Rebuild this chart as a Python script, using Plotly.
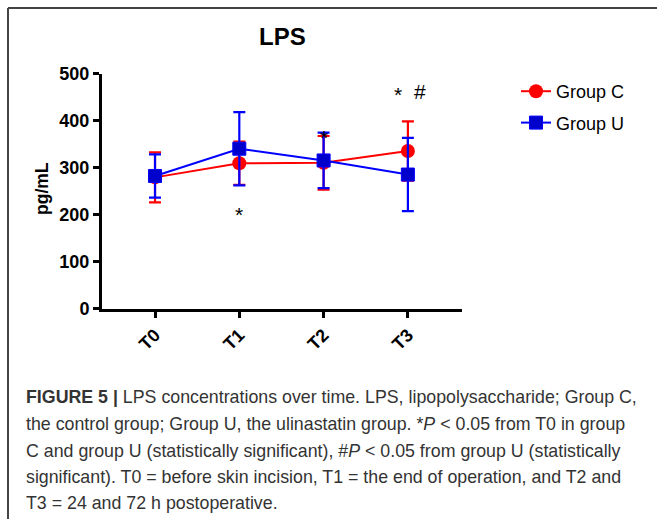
import plotly.graph_objects as go

categories = [0, 1, 2, 3]
tick_labels = ["T0", "T1", "T2", "T3"]
group_c = [279, 309, 310, 335]
group_c_err = [53, 46, 57, 63]
group_u = [282, 340, 315, 285]
group_u_err = [46, 78, 59, 78]

W, H = 657, 519
FONT = "Liberation Sans, Arial, Helvetica, sans-serif"

def px_x(x):
    return x / W

def px_y(y):
    return 1 - y / H

fig = go.Figure()
fig.add_trace(go.Scatter(
    x=categories, y=group_c, name="Group C", mode="lines+markers",
    line=dict(color="#ff0000", width=2),
    marker=dict(symbol="circle", size=14, color="#ff0000"),
    error_y=dict(type="data", array=group_c_err, color="#ff0000", thickness=2.2, width=6),
    legendgroup="c",
))
fig.add_trace(go.Scatter(
    x=categories, y=group_u, name="Group U", mode="lines+markers",
    line=dict(color="#0000ff", width=2),
    marker=dict(symbol="square", size=13, color="#0000cc", line=dict(color="#0000ff", width=1)),
    error_y=dict(type="data", array=group_u_err, color="#0000ff", thickness=2.2, width=6),
    legendgroup="u",
))

x0, x1 = 102, 462
y_top, y_bot = 73.5, 308.5
fig.update_layout(
    width=W, height=H,
    margin=dict(l=0, r=0, t=0, b=0, pad=0, autoexpand=False),
    paper_bgcolor="white", plot_bgcolor="white",
    font=dict(family=FONT, color="black"),
    showlegend=True,
    legend=dict(x=px_x(516), y=px_y(73), xanchor="left", yanchor="top",
                font=dict(size=18, family=FONT, color="black"),
                tracegroupgap=5, itemwidth=30, bgcolor="rgba(0,0,0,0)",
                traceorder="grouped"),
    xaxis=dict(
        domain=[px_x(x0), px_x(x1)],
        range=[-0.629, 3.642],
        tickmode="array", tickvals=categories, ticktext=tick_labels,
        tickangle=-45, ticks="outside", ticklen=6, tickwidth=3, tickcolor="black",
        showline=True, linewidth=3, linecolor="black",
        showgrid=False, zeroline=False, automargin=False,
        tickfont=dict(size=18, family=FONT, color="black", weight="bold"),
    ),
    yaxis=dict(
        domain=[px_y(y_bot), px_y(y_top)],
        range=[0, 500],
        tickvals=[0, 100, 200, 300, 400, 500],
        ticks="outside", ticklen=6, tickwidth=3, tickcolor="black",
        showline=True, linewidth=3, linecolor="black",
        showgrid=False, zeroline=False, automargin=False,
        tickfont=dict(size=18, family=FONT, color="black", weight="bold"),
    ),
)

shapes = [
    dict(type="line", xref="paper", yref="paper", x0=px_x(8), x1=1, y0=px_y(8), y1=px_y(8),
         line=dict(color="#444444", width=2)),
    dict(type="line", xref="paper", yref="paper", x0=px_x(8), x1=px_x(8), y0=px_y(8), y1=0,
         line=dict(color="#444444", width=2)),
]
fig.update_layout(shapes=shapes)

ann = []
ann.append(dict(text="<b>LPS</b>", xref="paper", yref="paper", x=px_x(282), y=px_y(37),
                showarrow=False, font=dict(size=24, family=FONT, color="black"),
                xanchor="center", yanchor="middle"))
ann.append(dict(text="<b>pg/mL</b>", xref="paper", yref="paper", x=px_x(42), y=px_y(189),
                showarrow=False, textangle=-90, font=dict(size=17.5, family=FONT, color="black"),
                xanchor="center", yanchor="middle"))
# significance marks
marks = [("*", 1, 200), ("*", 2, 364), ("*", 2.88, 455), ("#", 3.14, 461)]
for t, xv, yv in marks:
    ann.append(dict(text=t, x=xv, y=yv, xref="x", yref="y", showarrow=False,
                    font=dict(size=21, family=FONT, color="black"),
                    xanchor="center", yanchor="middle"))

caption = [
    "<b>FIGURE 5 |</b> LPS concentrations over time. LPS, lipopolysaccharide; Group C,",
    "the control group; Group U, the ulinastatin group. *<i>P</i> &lt; 0.05 from T0 in group",
    "C and group U (statistically significant), #<i>P</i> &lt; 0.05 from group U (statistically",
    "significant). T0 = before skin incision, T1 = the end of operation, and T2 and",
    "T3 = 24 and 72 h postoperative.",
]
line_y = [397, 424, 451, 477, 503]
for t, yy in zip(caption, line_y):
    ann.append(dict(text=t, xref="paper", yref="paper", x=px_x(24), y=px_y(yy),
                    showarrow=False, xanchor="left", yanchor="middle", align="left",
                    font=dict(size=17.8, family=FONT, color="#333333")))
fig.update_layout(annotations=ann)

post = (
    "var s=document.createElement('style');"
    "s.textContent='html,body{margin:0!important;padding:0!important;overflow:hidden!important;}';"
    "document.head.appendChild(s);"
)
fig.write_html("out.html", config={"displayModeBar": False}, post_script=post)
